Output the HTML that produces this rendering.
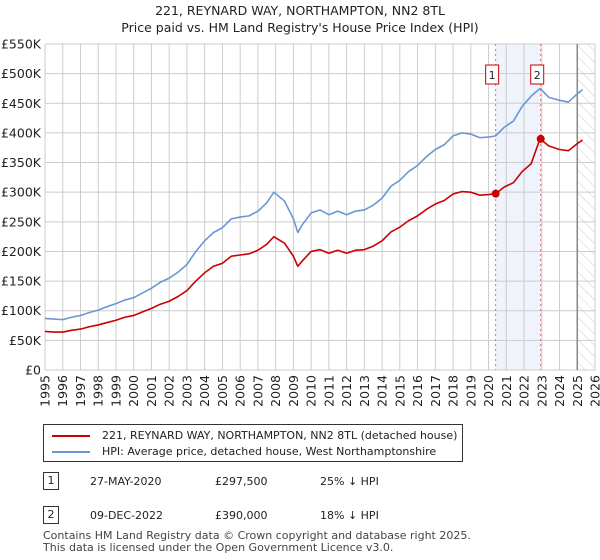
<!DOCTYPE html>
<html><head><meta charset="utf-8"><style>
body{margin:0;background:#fff;font-family:"Liberation Sans","DejaVu Sans",sans-serif;}
#wrap{position:relative;width:600px;height:560px;overflow:hidden}
</style></head><body>
<div id="wrap">
<svg id="chart" width="600" height="560" style="position:absolute;left:0;top:0;font-family:'DejaVu Sans','Liberation Sans',sans-serif">
<defs><pattern id="hatch" width="8" height="8" patternUnits="userSpaceOnUse" patternTransform="rotate(-45)"><line x1="0" y1="0" x2="0" y2="8" stroke="#ccc" stroke-width="1"/></pattern></defs>
<text x="300" y="15" text-anchor="middle" font-size="12.5" fill="#222">221, REYNARD WAY, NORTHAMPTON, NN2 8TL</text>
<text x="300" y="32" text-anchor="middle" font-size="12.5" fill="#222">Price paid vs. HM Land Registry's House Price Index (HPI)</text>
<g id="grid"></g><g id="marks"></g><g id="axes"></g>
</svg>
<div style="position:absolute;left:43px;top:424px;width:420px;height:38px;border:1px solid #333;box-sizing:border-box;font-size:11px;font-family:'DejaVu Sans',sans-serif;color:#222">
 <div style="position:absolute;left:8px;top:4px"><span style="display:inline-block;width:38px;border-top:2px solid #c00;vertical-align:middle;margin-right:12px"></span>221, REYNARD WAY, NORTHAMPTON, NN2 8TL (detached house)</div>
 <div style="position:absolute;left:8px;top:20px"><span style="display:inline-block;width:38px;border-top:2px solid #6a96d4;vertical-align:middle;margin-right:12px"></span>HPI: Average price, detached house, West Northamptonshire</div>
</div>
<div style="font-size:11px;font-family:'DejaVu Sans',sans-serif;color:#222">
 <div style="position:absolute;left:43px;top:472px;width:16px;height:18px;border:1px solid #333;box-sizing:border-box;text-align:center;line-height:16px">1</div>
 <div style="position:absolute;left:90px;top:475px">27-MAY-2020</div>
 <div style="position:absolute;left:215px;top:475px">£297,500</div>
 <div style="position:absolute;left:320px;top:475px">25% ↓ HPI</div>
 <div style="position:absolute;left:43px;top:506px;width:16px;height:18px;border:1px solid #333;box-sizing:border-box;text-align:center;line-height:16px">2</div>
 <div style="position:absolute;left:90px;top:509px">09-DEC-2022</div>
 <div style="position:absolute;left:215px;top:509px">£390,000</div>
 <div style="position:absolute;left:320px;top:509px">18% ↓ HPI</div>
</div>
<div style="position:absolute;left:43px;top:530px;font-size:11px;line-height:12px;font-family:'DejaVu Sans',sans-serif;color:#444">Contains HM Land Registry data © Crown copyright and database right 2025.<br>This data is licensed under the Open Government Licence v3.0.</div>
</div>
<script>
const years=[1995,1995.5,1996,1996.5,1997,1997.5,1998,1998.5,1999,1999.5,2000,2000.5,2001,2001.5,2002,2002.5,2003,2003.5,2004,2004.5,2005,2005.5,2006,2006.5,2007,2007.5,2007.9,2008.5,2009,2009.25,2009.5,2010,2010.5,2011,2011.5,2012,2012.5,2013,2013.5,2014,2014.5,2015,2015.5,2016,2016.5,2017,2017.5,2018,2018.5,2019,2019.5,2020,2020.4,2020.9,2021.4,2021.9,2022.4,2022.9,2023.4,2024,2024.5,2025,2025.3];
const hpi=[87,86,85,89,92,97,101,107,112,118,122,130,138,148,155,165,178,200,218,232,240,255,258,260,268,282,300,285,255,232,245,265,270,262,268,262,268,270,278,290,310,320,335,345,360,372,380,395,400,398,392,393,395,410,420,445,462,475,460,455,452,466,473];
const red=[65,64,64,67,69,73,76,80,84,89,92,98,104,111,116,124,134,150,164,175,180,192,194,196,202,212,225,214,192,175,184,200,203,197,202,197,202,203,209,218,233,241,252,260,271,280,286,297,301,300,295,296,297.5,309,316,335,348,390,378,372,370,382,388];
const saleYears=[2020.4,2022.94];
const salePrices=[297.5,390];
const yTicks=[0,50,100,150,200,250,300,350,400,450,500,550];
const yTickLabels=["£0","£50K","£100K","£150K","£200K","£250K","£300K","£350K","£400K","£450K","£500K","£550K"];
const xTicks=[1995,1996,1997,1998,1999,2000,2001,2002,2003,2004,2005,2006,2007,2008,2009,2010,2011,2012,2013,2014,2015,2016,2017,2018,2019,2020,2021,2022,2023,2024,2025,2026];
const NS="http://www.w3.org/2000/svg";
const X0=45,X1=595,Y0=370,Y1=44;
const xs=y=>X0+(y-1995)/(2026-1995)*(X1-X0);
const ys=v=>Y0-v/550*(Y0-Y1);
function mk(t,a,p){const e=document.createElementNS(NS,t);for(const k in a)e.setAttribute(k,a[k]);p.appendChild(e);return e;}
const grid=document.getElementById('grid'),marks=document.getElementById('marks'),axes=document.getElementById('axes');
let r=mk('rect',{x:xs(saleYears[0]),y:Y1,width:xs(saleYears[1])-xs(saleYears[0]),height:Y0-Y1,fill:'#eef3fc'},grid);


let h=mk('rect',{x:xs(2025),y:Y1,width:X1-xs(2025),height:Y0-Y1,fill:'url(#hatch)'},grid);


yTicks.forEach((v,i)=>{
 let l=mk('line',{x1:X0,x2:X1,y1:ys(v),y2:ys(v),stroke:'#ccc'},grid);
 
 
 let t=mk('text',{x:41,y:ys(v)+4.5,'text-anchor':'end','font-size':12.5,fill:'#222'},axes);
 t.textContent=yTickLabels[i];
 
 
});
xTicks.forEach(y=>{
 let l=mk('line',{x1:xs(y),x2:xs(y),y1:Y1,y2:Y0,stroke:'#ccc'},grid);
 
 
 let t=mk('text',{x:0,y:0,'text-anchor':'end','font-size':12.5,fill:'#222',transform:`translate(${xs(y)+4.5},${Y0+5}) rotate(-90)`},axes);
 t.textContent=y;
 
 
});
let vl=mk('line',{x1:xs(2025),x2:xs(2025),y1:Y1,y2:Y0,stroke:'#888','stroke-width':1.5},grid);


saleYears.forEach((y,i)=>{
 let d=mk('line',{x1:xs(y),x2:xs(y),y1:Y1,y2:Y0,stroke:'#e66','stroke-dasharray':'2,3'},marks);
 
 
});
function line(arr,col,name){
 let p=mk('polyline',{points:years.map((y,i)=>xs(y)+','+ys(arr[i])).join(' '),fill:'none',stroke:col,'stroke-width':1.6,'stroke-linejoin':'round'},marks);
 
 
}
line(hpi,'#6a96d4','hpi-line');
line(red,'#c00','price-paid-line');
saleYears.forEach((y,i)=>{
 let c=mk('circle',{cx:xs(y),cy:ys(salePrices[i]),r:4,fill:'#c00'},marks);
 
 
 let b=mk('rect',{x:xs(y)-10,y:65,width:13,height:19,fill:'#fff',stroke:'#c00'},marks);
 
 
 let t=mk('text',{x:xs(y)-3.5,y:79,'text-anchor':'middle','font-size':11,fill:'#222'},marks);
 t.textContent=String(i+1);
 
 
});
</script>
</body></html>
